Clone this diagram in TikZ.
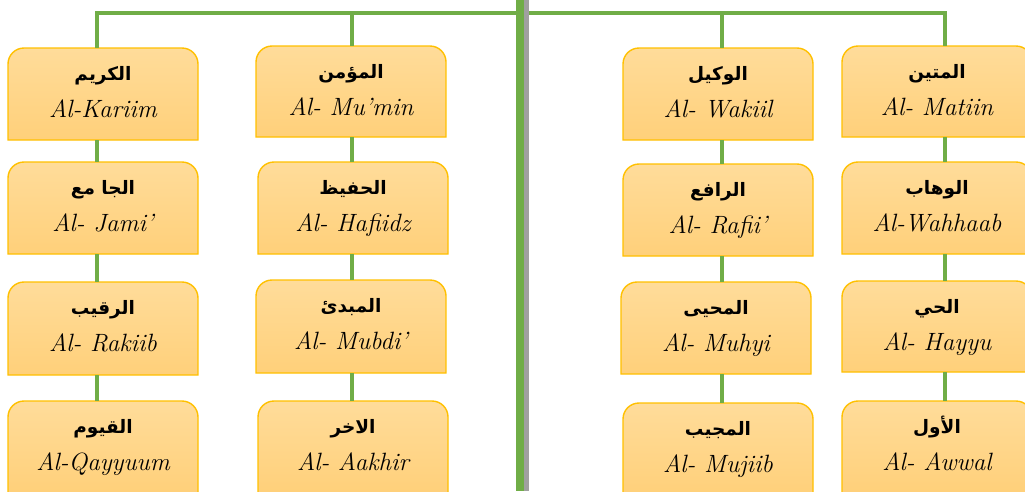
\documentclass[tikz,border=0pt]{standalone}
\usepackage{fontspec}
\newfontfamily\arabicfont[Script=Arabic]{DejaVu Sans}
\TeXXeTstate=1
\definecolor{lgreen}{HTML}{70AD47}
\definecolor{shadowgrey}{HTML}{A0A0A0}
\definecolor{gold}{HTML}{FFC000}
\definecolor{filltop}{HTML}{FFDC9A}
\definecolor{fillbot}{HTML}{FFD07A}
\tikzset{
  boxshape/.style={top color=filltop, bottom color=fillbot, draw=gold, line width=1.4pt},
  boxnode/.style={rectangle, minimum width=190pt, inner sep=0pt},
  artext/.style={anchor=base, inner sep=0pt, font=\arabicfont\bfseries\fontsize{18.5}{22}\selectfont},
  latext/.style={anchor=base, inner sep=0pt, font=\itshape\fontsize{25}{29}\selectfont},
  conn/.style={draw=lgreen, line width=3.5pt},
  topline/.style={draw=lgreen, line width=4pt, line join=miter},
}
\newcommand\NameBox[6]{%
  \shadedraw[boxshape] (#2,-#4) -- (#2,-#3-16) arc(180:90:16) -- (#2+174,-#3) arc(90:0:16) -- (#2+190,-#4) -- cycle;
  \node[boxnode, minimum height={#4-#3}] (#1) at (#2+95,{-(#3+#4)/2}) {};
  \node[artext] (#1-ar) at (#2+95,-#3-32) {#5};
  \node[latext] (#1-la) at (#2+95,-#3-69) {#6};
}
\begin{document}
\begin{tikzpicture}[x=1pt,y=1pt]
\useasboundingbox (0,0) rectangle (1025,-491);
\clip (0,0) rectangle (1025,-491);
% column 1
\NameBox{c1r1}{8}{48}{140}{\beginR الكريم\endR}{Al-Kariim}
\NameBox{c1r2}{8}{162}{254}{\beginR الجا مع\endR}{Al- Jami’}
\NameBox{c1r3}{8}{282}{375}{\beginR الرقيب\endR}{Al- Rakiib}
\NameBox{c1r4}{8}{401}{493}{\beginR القيوم\endR}{Al-Qayyuum}
% column 2
\NameBox{c2r1}{256}{46}{137}{\beginR المؤمن\endR}{Al- Mu’min}
\NameBox{c2r2}{258}{162}{254}{\beginR الحفيظ\endR}{Al- Hafiidz}
\NameBox{c2r3}{256}{280}{373}{\beginR المبدئ\endR}{Al- Mubdi’}
\NameBox{c2r4}{258}{401}{493}{\beginR الاخر\endR}{Al- Aakhir}
% column 3
\NameBox{c3r1}{623}{48}{140}{\beginR الوكيل\endR}{Al- Wakiil}
\NameBox{c3r2}{623}{164}{256}{\beginR الرافع\endR}{Al- Rafii’}
\NameBox{c3r3}{621}{282}{374}{\beginR المحيى\endR}{Al- Muhyi}
\NameBox{c3r4}{623}{403}{495}{\beginR المجيب\endR}{Al- Mujiib}
% column 4
\NameBox{c4r1}{842}{46}{137}{\beginR المتين\endR}{Al- Matiin}
\NameBox{c4r2}{842}{162}{254}{\beginR الوهاب\endR}{Al-Wahhaab}
\NameBox{c4r3}{842}{281}{372}{\beginR الحي\endR}{Al- Hayyu}
\NameBox{c4r4}{842}{401}{493}{\beginR الأول\endR}{Al- Awwal}
% top line and drops
\coordinate (t1) at (97,-13);
\coordinate (t2) at (352,-13);
\coordinate (t3) at (722,-13);
\coordinate (t4) at (945,-13);
\draw[topline] (t1 |- c1r1.north) -- (t1) -- (t4) -- (t4 |- c4r1.north);
\draw[conn] (t2) -- (t2 |- c2r1.north);
\draw[conn] (t3) -- (t3 |- c3r1.north);
% vertical connectors
\foreach \c/\t in {1/t1,2/t2,3/t3,4/t4}{
  \draw[conn] (\t |- c\c r1.south) -- (\t |- c\c r2.north);
  \draw[conn] (\t |- c\c r2.south) -- (\t |- c\c r3.north);
  \draw[conn] (\t |- c\c r3.south) -- (\t |- c\c r4.north);
}
% trunk
\coordinate (trunktop) at (520,0);
\coordinate (trunkbot) at (520,-491);
\draw[draw=shadowgrey, line width=6pt] ([xshift=6pt]trunktop) -- ([xshift=6pt]trunkbot);
\draw[draw=lgreen, line width=8pt] (trunktop) -- (trunkbot);
\end{tikzpicture}
\end{document}
